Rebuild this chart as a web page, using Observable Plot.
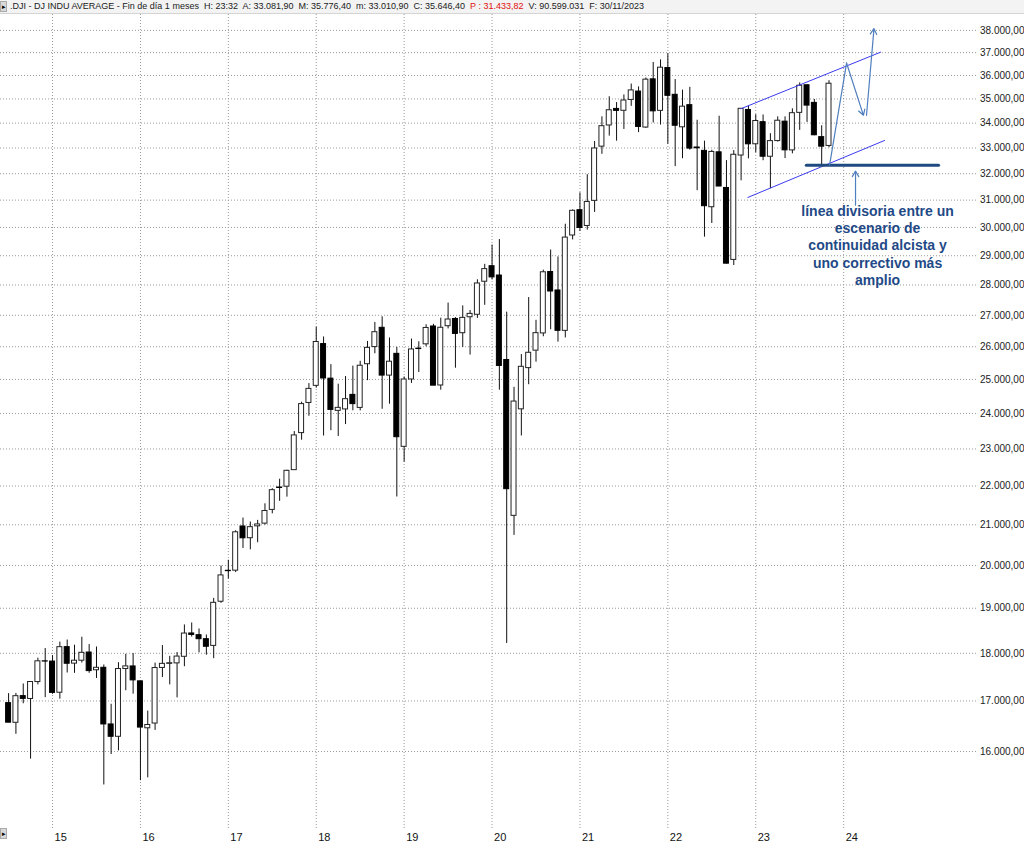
<!DOCTYPE html>
<html><head><meta charset="utf-8">
<script src="https://cdn.jsdelivr.net/npm/d3@7"></script>
<script src="https://cdn.jsdelivr.net/npm/@observablehq/plot@0.6"></script>
<style>
html,body{margin:0;padding:0;background:#fff}
body{width:1024px;height:843px;overflow:hidden;position:relative;font-family:"Liberation Sans",Arial,sans-serif}
#hdr{height:13px;line-height:13px;font-size:9px;color:#222;white-space:pre;background:#f3f3f3;border-bottom:1px solid #d4d4d4;padding-left:10px;position:relative}
#hdr .red{color:#e01010}
.icon{position:absolute;left:0;width:7px;height:11px;background:#d8d8d8;border:1px solid #aaa;box-sizing:border-box;font-size:7px;line-height:10px;text-align:center;color:#000}
</style></head><body>
<div id="hdr"></div>
<div id="chart"></div>
<div class="icon" style="top:1px">&#9656;</div>
<div class="icon" style="top:828px">&#9656;</div>
<script>
// ---- header ----
const headerFields = [".DJI - DJ INDU AVERAGE - Fin de día 1 meses", "H: 23:32", "A: 33.081,90", "M: 35.776,40", "m: 33.010,90", "C: 35.646,40"];
const headerRed = "P : 31.433,82";
const headerTail = ["V: 90.599.031", "F: 30/11/2023"];

// ---- monthly candles (DJI) ----
const months = [
"2014-07","2014-08","2014-09","2014-10","2014-11","2014-12",
"2015-01","2015-02","2015-03","2015-04","2015-05","2015-06","2015-07","2015-08","2015-09","2015-10","2015-11","2015-12",
"2016-01","2016-02","2016-03","2016-04","2016-05","2016-06","2016-07","2016-08","2016-09","2016-10","2016-11","2016-12",
"2017-01","2017-02","2017-03","2017-04","2017-05","2017-06","2017-07","2017-08","2017-09","2017-10","2017-11","2017-12",
"2018-01","2018-02","2018-03","2018-04","2018-05","2018-06","2018-07","2018-08","2018-09","2018-10","2018-11","2018-12",
"2019-01","2019-02","2019-03","2019-04","2019-05","2019-06","2019-07","2019-08","2019-09","2019-10","2019-11","2019-12",
"2020-01","2020-02","2020-03","2020-04","2020-05","2020-06","2020-07","2020-08","2020-09","2020-10","2020-11","2020-12",
"2021-01","2021-02","2021-03","2021-04","2021-05","2021-06","2021-07","2021-08","2021-09","2021-10","2021-11","2021-12",
"2022-01","2022-02","2022-03","2022-04","2022-05","2022-06","2022-07","2022-08","2022-09","2022-10","2022-11","2022-12",
"2023-01","2023-02","2023-03","2023-04","2023-05","2023-06","2023-07","2023-08","2023-09","2023-10","2023-11"];
const open = [
16956,16561,17099,17041,17390,17828,
17823,17169,18134,17779,17841,18017,17638,17690,16528,16285,17664,17719,
17405,16452,16546,17687,17774,17784,17925,18434,18396,18308,18161,19149,
19873,19876,20958,20665,20962,21030,21379,21961,21982,22423,23442,24305,
24809,26084,25024,24076,24117,24542,24161,25461,25990,26598,25116,25780,
23059,24999,25942,26076,26640,24820,26649,26882,26426,26937,27017,28109,
28638,28320,25590,21227,24120,25342,25879,26419,28439,27816,26501,29712,
30628,30054,30973,33054,33904,34584,34507,34959,35312,33820,35833,34504,
36322,35175,33830,34740,33020,32888,30737,32830,31456,28855,32704,34541,
33148,34039,32656,33276,34060,32906,34421,35580,34836,33433,33082];
const high = [
17151,17154,17350,17396,17895,18104,
17951,18244,18289,18176,18351,18190,18137,17750,16933,17799,17978,17996,
17405,16795,17790,18168,17935,18017,18623,18668,18534,18400,19226,19987,
20125,20851,21170,21071,21112,21536,21930,22180,22420,23485,24328,24876,
26617,26307,25450,24858,25087,25403,25552,26167,26770,26952,26277,25981,
25075,26242,26156,26696,26709,26907,27399,26926,27306,27155,28175,28702,
29374,29568,27102,24765,25758,27580,26838,28502,29199,28958,30117,30638,
31272,31961,33259,34257,35092,34849,35171,35631,35510,35892,36566,36679,
36953,35825,35372,35492,34118,33272,32910,34282,32504,32899,34589,34712,
34342,34334,33572,34257,34257,34589,35679,35580,34979,33893,35776];
const low = [
16563,16334,16943,15855,17331,17068,
17136,17037,17580,17573,17791,17574,17465,15370,15942,16013,17210,17139,
15451,15503,16410,17484,17331,17063,17713,18355,18010,17960,17884,19111,
19678,19831,20412,20380,20553,20994,21279,21600,21709,22416,23242,23921,
24741,23360,23509,23345,23683,24078,24077,24965,25782,24122,24269,21713,
22638,24882,25208,25999,24812,24680,26562,25339,25978,25743,26899,27325,
28170,24681,18214,20735,23361,24843,25524,26314,26537,26144,26277,29555,
29857,29904,30548,32751,33474,33272,33742,34690,33613,33785,34006,33920,
33150,32272,32578,32913,31353,29653,30144,31509,28715,28661,31727,32573,
32812,32500,31429,33235,32586,32771,33705,34029,33491,32327,33011];
const close = [
16563,17098,17043,17391,17828,17823,
17165,18133,17776,17841,18011,17620,17690,16528,16285,17664,17720,17425,
16466,16517,17685,17774,17787,17930,18432,18401,18308,18142,19124,19763,
19864,20812,20663,20941,21009,21350,21891,21948,22405,23377,24272,24719,
26149,25029,24103,24163,24416,24271,25415,25965,26458,25116,25538,23327,
24999,25916,25929,26593,24815,26600,26864,26403,26917,27046,28051,28538,
28256,25409,21917,24346,25383,25813,26428,28430,27782,26502,29638,30606,
29983,30932,32982,33875,34529,34503,34935,35361,33844,35820,34484,36338,
35132,33893,34678,32977,32990,30775,32845,31510,28725,32733,34590,33147,
34086,32657,33274,34098,32908,34407,35560,34722,33508,33053,35646];

// ---- axis ticks ----
const yearTicks = [2015,2016,2017,2018,2019,2020,2021,2022,2023,2024];
const priceTicks = [16000,17000,18000,19000,20000,21000,22000,23000,24000,25000,26000,27000,28000,29000,30000,31000,32000,33000,34000,35000,36000,37000,38000];

// ---- hand-drawn annotations (decimal year, price) ----
const upperChannel = [{t:2022.83, v:34590},{t:2024.42, v:37020}];
const lowerChannel = [{t:2022.91, v:31100},{t:2024.465, v:33300}];
const dividingLine = [{t:2023.575, v:32327},{t:2025.08, v:32327}];
const scenarioLeg1 = [{t:2023.84, v:32327},{t:2024.033, v:36540}];
const scenarioLeg2 = [{t1:2024.033, v1:36540, t2:2024.225, v2:34320}];
const scenarioLeg3 = [{t1:2024.26, v1:34320, t2:2024.345, v2:38080}];
const noteArrow = [{t1:2024.135, v1:30810, t2:2024.135, v2:32100}];
const noteText = [{t:2024.386, v:30850, text:"línea divisoria entre un\nescenario de\ncontinuidad alcista y\nuno correctivo más\namplio"}];

// header
const hdr = document.getElementById("hdr");
hdr.innerHTML = headerFields.join("  ") + "  <span class='red'>" + headerRed + "</span>  " + headerTail.join("  ");

const rows = months.map((m, i) => {
  const [yy, mm] = m.split("-").map(Number);
  return {t: yy + (mm - 1) / 12, open: open[i], high: high[i], low: low[i], close: close[i]};
});
const up = rows.filter(d => d.close >= d.open);
const down = rows.filter(d => d.close < d.open);
const hw = 0.34 / 12;

const es = d3.formatLocale({decimal: ",", thousands: ".", grouping: [3], currency: ["", ""]});
const fmt = es.format(",.2f");
const gridStyle = {stroke: "#9a9a9a", strokeOpacity: 1, strokeDasharray: "1,2"};
const navy = "#1f4a87";

const chart = Plot.plot({
  width: 1024,
  height: 829,
  marginLeft: 0,
  marginRight: 46,
  marginTop: 5,
  marginBottom: 27,
  style: {fontFamily: "'Liberation Sans', Arial, sans-serif", fontSize: "11px", background: "#fff", color: "#222"},
  x: {type: "linear", domain: [2014.408, 2025.534]},
  y: {type: "log", domain: [14800, 38500], nice: false},
  marks: [
    Plot.gridY(priceTicks, gridStyle),
    Plot.gridX(yearTicks, {...gridStyle, insetTop: -5, insetBottom: -12}),
    Plot.ruleX(rows, {x: "t", y1: "low", y2: "high", stroke: "#111", strokeWidth: 1}),
    Plot.rect(up, {x1: d => d.t - hw, x2: d => d.t + hw, y1: "open", y2: "close", fill: "#fff", stroke: "#222", strokeWidth: 1}),
    Plot.rect(down, {x1: d => d.t - hw, x2: d => d.t + hw, y1: "open", y2: "close", fill: "#000", stroke: "#000", strokeWidth: 1}),
    Plot.line(upperChannel, {x: "t", y: "v", stroke: "#3a3af0", strokeWidth: 1}),
    Plot.line(lowerChannel, {x: "t", y: "v", stroke: "#3a3af0", strokeWidth: 1}),
    Plot.line(dividingLine, {x: "t", y: "v", stroke: "#1f4a80", strokeWidth: 3}),
    Plot.line(scenarioLeg1, {x: "t", y: "v", stroke: "#4f7fbf", strokeWidth: 1.2}),
    Plot.arrow(scenarioLeg2, {x1: "t1", y1: "v1", x2: "t2", y2: "v2", stroke: "#4f7fbf", strokeWidth: 1.2, headLength: 8}),
    Plot.arrow(scenarioLeg3, {x1: "t1", y1: "v1", x2: "t2", y2: "v2", stroke: "#4f7fbf", strokeWidth: 1.2, headLength: 8}),
    Plot.arrow(noteArrow, {x1: "t1", y1: "v1", x2: "t2", y2: "v2", stroke: "#4f7fbf", strokeWidth: 1.2, headLength: 8}),
    Plot.text(noteText, {x: "t", y: "v", text: "text", lineAnchor: "top", textAnchor: "middle", fontWeight: "bold", fontSize: 14, lineHeight: 1.22, fill: navy}),
    Plot.axisY(priceTicks, {anchor: "right", tickSize: 0, tickPadding: 1.5, tickFormat: fmt, fontSize: 10, fill: "#222"}),
    Plot.axisX(yearTicks, {anchor: "bottom", tickSize: 0, tickPadding: 17, tickFormat: d => String(d).slice(2), textAnchor: "start", dx: 2, fontSize: 11, fill: "#111"})
  ]
});
document.getElementById("chart").appendChild(chart);
</script>
</body></html>
